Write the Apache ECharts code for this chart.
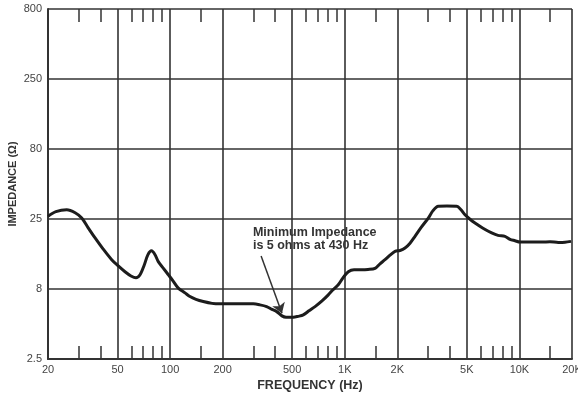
<!DOCTYPE html>
<html>
<head>
<meta charset="utf-8">
<script src="https://cdn.jsdelivr.net/npm/echarts@6/dist/echarts.min.js"></script>
<style>
html,body{margin:0;padding:0;background:#fff;}
#chart{width:578px;height:395px;}
</style>
</head>
<body>
<div id="chart"></div>
<script>
// Frequency (Hz) of curve points
const freq = [20, 22.2, 25.6, 28.6, 31.2, 33.9, 37.2, 41.3, 46.3, 50.3, 55.2, 59.7, 63.8, 67.3, 70.9, 74.7, 78.3, 82.0, 85.6, 91.1, 97.7,
  103.9, 111.4, 121.7, 130, 140.7, 154.9, 173.8, 193, 240.6, 299.6, 327, 357, 383, 408, 437, 461, 508, 540, 579, 624, 676, 741, 805, 856, 918, 977,
  1048, 1130, 1250, 1358, 1490, 1592, 1700, 1816, 1940, 2072, 2213, 2364, 2524, 2732, 3009, 3201, 3432, 3848, 4375, 4630, 4880, 5212, 5568, 6186, 6938, 7540, 8270, 8832, 9434,
  10076, 11497, 13417, 14964, 16699, 18236, 19740];
// Impedance (ohms)
const impedance = [26.1, 28.2, 29.1, 27.7, 25.4, 21.7, 18.3, 15.3, 12.8, 11.6, 10.5, 9.8, 9.5, 10.0, 11.6, 13.9, 14.8, 13.9, 12.4, 11.2, 10.0,
  9.04, 8.02, 7.42, 6.98, 6.67, 6.43, 6.24, 6.19, 6.19, 6.19, 6.09, 5.92, 5.65, 5.45, 5.08, 4.97, 4.97, 5.04, 5.16, 5.52, 5.92, 6.50, 7.18, 7.80, 8.47, 9.5,
  10.5, 10.84, 10.84, 10.9, 11.1, 11.97, 12.8, 13.8, 14.7, 14.9, 15.5, 16.8, 18.8, 21.7, 25.4, 28.7, 30.8, 30.9, 30.8, 29.1, 26.8, 24.9, 23.4, 21.5, 19.9, 19.1, 18.8, 17.9, 17.5,
  17.1, 17.1, 17.1, 17.2, 17.0, 17.05, 17.3];

const xTickValues = [20, 50, 100, 200, 500, 1000, 2000, 5000, 10000, 20000];
const xTickLabels = ['20', '50', '100', '200', '500', '1K', '2K', '5K', '10K', '20K'];
const xMinorTicks = [30, 40, 60, 70, 80, 90, 150, 300, 400, 600, 700, 800, 900, 1500, 3000, 4000, 6000, 7000, 8000, 9000, 15000];
const yTickValues = [2.5, 7.9057, 25, 79.057, 250, 790.56];
const yTickLabels = ['2.5', '8', '25', '80', '250', '800'];

const annotationText = ['Minimum Impedance', 'is 5 ohms at 430 Hz'];
const annotationTextAt = [298, 17.9];
const arrowFrom = [332, 13.6];
const arrowTo = [437, 5.3];

function nearestLabel(vals, labels, v) {
  let best = 0, bd = Infinity;
  for (let i = 0; i < vals.length; i++) {
    const d = Math.abs(Math.log(vals[i]) - Math.log(v));
    if (d < bd) { bd = d; best = i; }
  }
  return labels[best];
}

const FONT = '"Liberation Sans", Arial, Helvetica, sans-serif';
const GRID = '#333';

const chart = echarts.init(document.getElementById('chart'), null, {renderer: 'canvas'});
const minorAxis = (pos) => ({
  type: 'log', logBase: 10, min: 20, max: 20000, position: pos,
  axisLine: {show: false},
  axisTick: {show: true, inside: true, length: 13, customValues: xMinorTicks, lineStyle: {color: GRID, width: 1.5}},
  axisLabel: {show: false},
  splitLine: {show: false}
});

chart.setOption({
  animation: false,
  backgroundColor: '#fff',
  grid: {left: 48, right: 6, top: 9, bottom: 36, containLabel: false, outerBoundsMode: 'none'},
  xAxis: [{
    type: 'log', logBase: 10, min: 20, max: 20000, position: 'bottom',
    name: 'FREQUENCY (Hz)', nameLocation: 'middle', nameGap: 20, nameMoveOverlap: false,
    nameTextStyle: {fontFamily: FONT, fontWeight: 'bold', fontSize: 12.5, color: '#333'},
    axisLine: {show: true, lineStyle: {color: GRID, width: 2}},
    axisTick: {show: false, customValues: xTickValues},
    axisLabel: {show: true, customValues: xTickValues, margin: 5, fontFamily: FONT, fontSize: 11, color: '#444',
      formatter: v => nearestLabel(xTickValues, xTickLabels, v)},
    splitLine: {show: true, lineStyle: {color: GRID, width: 1.6}}
  }, minorAxis('top'), minorAxis('bottom')],
  yAxis: [{
    type: 'log', logBase: 10, min: 2.5, max: 790.57,
    name: 'IMPEDANCE (Ω)', nameLocation: 'middle', nameGap: 30, nameMoveOverlap: false,
    nameTextStyle: {fontFamily: FONT, fontWeight: 'bold', fontSize: 11, color: '#333'},
    axisLine: {show: true, lineStyle: {color: GRID, width: 2}},
    axisTick: {show: false, customValues: yTickValues},
    axisLabel: {show: true, customValues: yTickValues, margin: 6, fontFamily: FONT, fontSize: 11, color: '#444',
      formatter: v => nearestLabel(yTickValues, yTickLabels, v)},
    splitLine: {show: true, lineStyle: {color: GRID, width: 1.6}}
  }],
  series: [{
    type: 'line',
    xAxisIndex: 0, yAxisIndex: 0,
    data: freq.map((f, i) => [f, impedance[i]]),
    showSymbol: false, smooth: 0.3,
    lineStyle: {color: '#1c1c1c', width: 3},
    markLine: {
      silent: true, symbol: ['none', 'arrow'], symbolSize: 10,
      label: {show: false},
      lineStyle: {color: '#333', width: 1.5, type: 'solid'},
      itemStyle: {color: '#333'},
      data: [[{coord: arrowFrom}, {coord: arrowTo}]]
    }
  }]
});

const p = chart.convertToPixel({xAxisIndex: 0, yAxisIndex: 0}, annotationTextAt);
chart.setOption({
  graphic: [{
    type: 'text', x: p[0], y: p[1],
    style: {text: annotationText.join('\n'), fontFamily: FONT, fontWeight: 'bold', fontSize: 12.5,
      lineHeight: 13, fill: '#333', textAlign: 'left', textVerticalAlign: 'middle'}
  }]
});
</script>
</body>
</html>
